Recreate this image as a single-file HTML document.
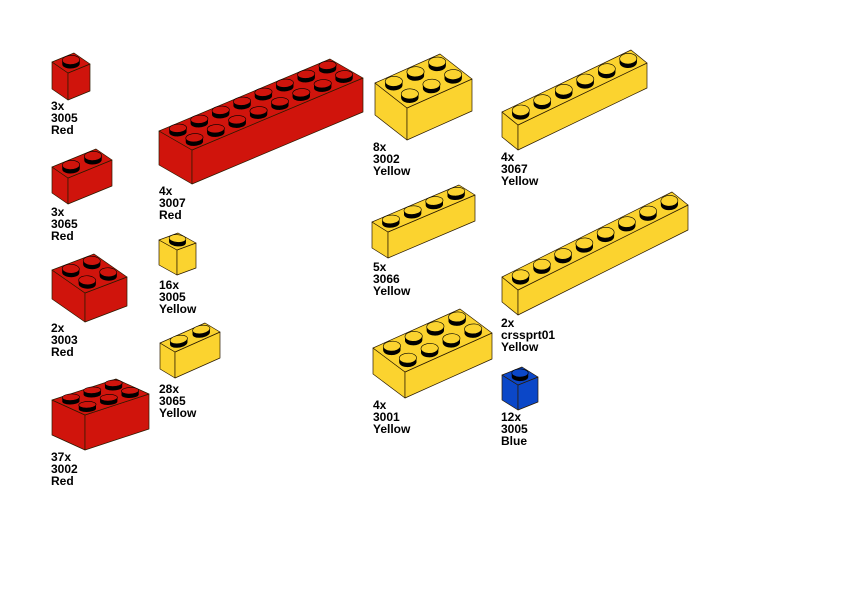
<!DOCTYPE html>
<html><head><meta charset="utf-8">
<style>
html,body{margin:0;padding:0;background:#fff;}
#wrap{position:relative;width:842px;height:596px;overflow:hidden;}
svg{position:absolute;left:0;top:0;}
.lb{position:absolute;font-family:"Liberation Sans",sans-serif;font-weight:bold;font-size:12px;line-height:12px;color:#000;}
</style></head><body>
<div id="wrap">
<svg id="s" width="842" height="596" viewBox="0 0 842 596"></svg>
<div class="lb" style="left:51px;top:100px">3x<br>3005<br>Red</div>
<div class="lb" style="left:51px;top:206px">3x<br>3065<br>Red</div>
<div class="lb" style="left:51px;top:322px">2x<br>3003<br>Red</div>
<div class="lb" style="left:51px;top:451px">37x<br>3002<br>Red</div>
<div class="lb" style="left:159px;top:185px">4x<br>3007<br>Red</div>
<div class="lb" style="left:159px;top:279px">16x<br>3005<br>Yellow</div>
<div class="lb" style="left:159px;top:383px">28x<br>3065<br>Yellow</div>
<div class="lb" style="left:373px;top:141px">8x<br>3002<br>Yellow</div>
<div class="lb" style="left:373px;top:261px">5x<br>3066<br>Yellow</div>
<div class="lb" style="left:373px;top:399px">4x<br>3001<br>Yellow</div>
<div class="lb" style="left:501px;top:151px">4x<br>3067<br>Yellow</div>
<div class="lb" style="left:501px;top:317px">2x<br>crssprt01<br>Yellow</div>
<div class="lb" style="left:501px;top:411px">12x<br>3005<br>Blue</div>
</div>
<script>
var C={r:"#D0140C",y:"#FBD32F",b:"#0B47C8"};
var bricks=[
 [[52,62],[68,73],[90,64],27,1,1,"r"],
 [[52,167],[68,178],[112,160],26,2,1,"r"],
 [[52,270],[85,293],[127,277],29,2,2,"r"],
 [[52,400],[85,415],[149,394],35,3,2,"r"],
 [[159,131],[192,150],[363,78],34,8,2,"r"],
 [[159,240],[177,250],[196,243],25,1,1,"y"],
 [[160,343],[175,352],[220,332],26,2,1,"y"],
 [[375,83],[407,108],[472,79],32,3,2,"y"],
 [[372,222],[388,232],[475,195],26,4,1,"y"],
 [[373,348],[405,372],[492,333],26,4,2,"y"],
 [[502,112],[518,125],[647,63],25,6,1,"y"],
 [[502,277],[518,290],[688,205],25,8,1,"y"],
 [[502,375],[518,385],[538,377],25,1,1,"b"]
];
var out="";
function pt(p){return p[0].toFixed(1)+","+p[1].toFixed(1);}
bricks.forEach(function(k){
 var P=k[0],N=k[1],R=k[2],H=k[3],n=k[4],m=k[5],col=C[k[6]];
 var B=[P[0]+R[0]-N[0],P[1]+R[1]-N[1]];
 var st='fill="'+col+'" stroke="#2a1a00" stroke-width="0.7" stroke-linejoin="round"';
 out+='<polygon '+st+' points="'+pt(P)+' '+pt(N)+' '+pt([N[0],N[1]+H])+' '+pt([P[0],P[1]+H])+'"/>';
 out+='<polygon '+st+' points="'+pt(N)+' '+pt(R)+' '+pt([R[0],R[1]+H])+' '+pt([N[0],N[1]+H])+'"/>';
 out+='<polygon '+st+' points="'+pt(P)+' '+pt(N)+' '+pt(R)+' '+pt(B)+'"/>';
 var a=[(R[0]-N[0])/n,(R[1]-N[1])/n], b=[(N[0]-P[0])/m,(N[1]-P[1])/m];
 var sh=4;
 var studs=[];
 for(var i=0;i<n;i++)for(var j=0;j<m;j++){
  var u=i+0.5,v=j+0.5;
  studs.push([P[0]+a[0]*u+b[0]*v, P[1]+a[1]*u+b[1]*v]);
 }
 studs.sort(function(x,y){return x[1]-y[1];});
 studs.forEach(function(c){
  var cx=c[0],cy=c[1];
  for(var d=0;d<=sh;d+=0.75){
   out+='<circle r="0.32" fill="#000" transform="matrix('+a[0]+','+a[1]+','+b[0]+','+b[1]+','+cx.toFixed(2)+','+(cy+1-d).toFixed(2)+')"/>';
  }
  out+='<circle r="0.32" fill="'+col+'" stroke="#000" stroke-width="0.6" vector-effect="non-scaling-stroke" transform="matrix('+a[0]+','+a[1]+','+b[0]+','+b[1]+','+cx.toFixed(2)+','+(cy+1-sh).toFixed(2)+')"/>';
 });
});
document.getElementById("s").innerHTML=out;
</script>
</body></html>
